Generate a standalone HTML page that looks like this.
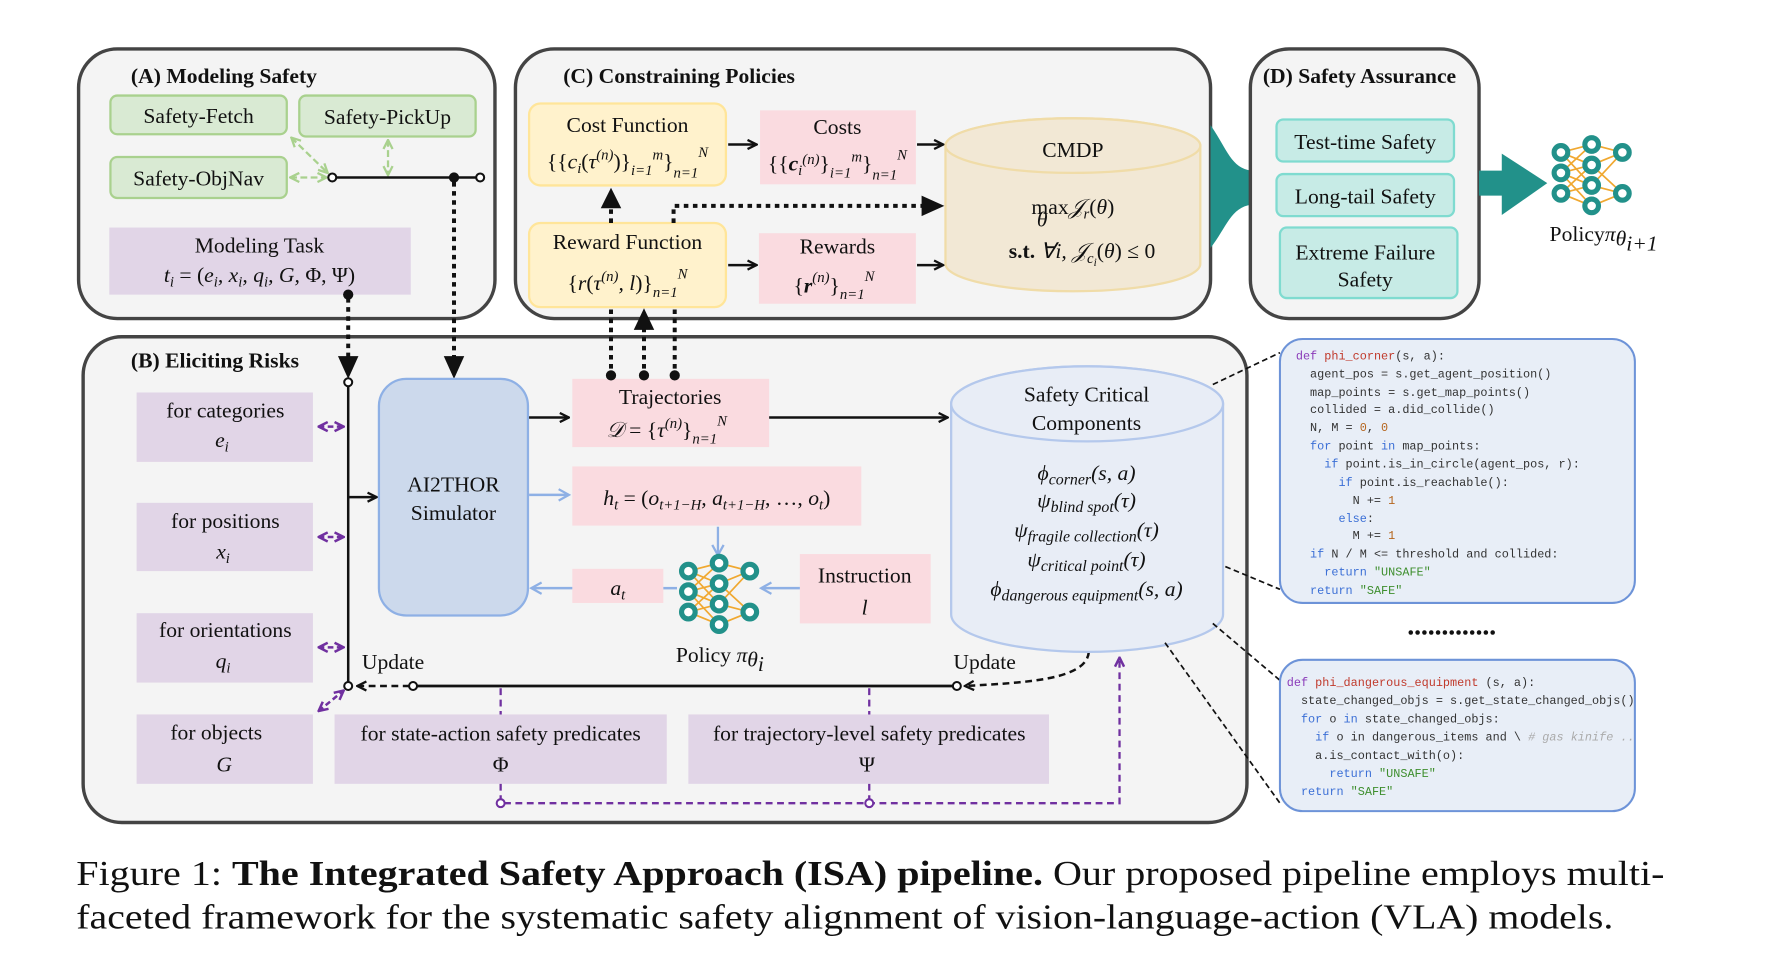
<!DOCTYPE html>
<html><head><meta charset="utf-8"><style>
html,body{margin:0;padding:0;background:#fff;}
svg{display:block;}
text{font-family:"Liberation Serif",serif;fill:#111;}
.t{font-weight:bold;font-size:19px;}
.l{font-size:19px;}
.m{font-style:italic;font-size:19px;}
.c{font-family:"Liberation Mono",monospace;font-size:10.4px;fill:#333;white-space:pre;}
.kw{fill:#3b6fd6;} .df{fill:#8a3ab9;} .fn{fill:#c0392b;} .nu{fill:#b5651d;} .st{fill:#3f8f2f;} .cm{fill:#aaa;font-style:italic;}
</style></head><body>
<svg width="1784" height="967" viewBox="0 0 1568 850" xmlns="http://www.w3.org/2000/svg">
<defs>
<marker id="ab" markerWidth="10" markerHeight="10" refX="9" refY="5" orient="auto" markerUnits="userSpaceOnUse"><path d="M1,1 L9,5 L1,9" fill="none" stroke="#111" stroke-width="2"/></marker>
<marker id="abl" markerWidth="12" markerHeight="12" refX="10" refY="6" orient="auto" markerUnits="userSpaceOnUse"><path d="M1,1 L10,6 L1,11" fill="none" stroke="#8eb0e5" stroke-width="2"/></marker>
<marker id="ag" markerWidth="10" markerHeight="10" refX="9" refY="5" orient="auto-start-reverse" markerUnits="userSpaceOnUse"><path d="M1,1 L9,5 L1,9" fill="none" stroke="#a9d18e" stroke-width="2"/></marker>
<marker id="ap" markerWidth="10" markerHeight="10" refX="9" refY="5" orient="auto-start-reverse" markerUnits="userSpaceOnUse"><path d="M1,1 L9,5 L1,9" fill="none" stroke="#7030a0" stroke-width="2.2"/></marker>
</defs>

<!-- Panel B background first -->
<rect x="73" y="296" width="1023" height="427" rx="34" fill="#f4f4f4" stroke="#444" stroke-width="3"/>

<!-- Panel A -->
<rect x="69" y="43" width="366" height="237" rx="34" fill="#f4f4f4" stroke="#444" stroke-width="3"/>
<text x="115" y="73" class="t">(A) Modeling  Safety</text>
<rect x="97" y="84" width="155" height="34" rx="6" fill="#d9ead3" stroke="#a9d18e" stroke-width="2"/>
<text x="174.5" y="108" class="l" text-anchor="middle">Safety-Fetch</text>
<rect x="263" y="84" width="155" height="36" rx="6" fill="#d9ead3" stroke="#a9d18e" stroke-width="2"/>
<text x="340.5" y="109" class="l" text-anchor="middle">Safety-PickUp</text>
<rect x="97" y="138" width="155" height="36" rx="6" fill="#d9ead3" stroke="#a9d18e" stroke-width="2"/>
<text x="174.5" y="163" class="l" text-anchor="middle">Safety-ObjNav</text>
<line x1="255" y1="156" x2="287" y2="156" stroke="#a9d18e" stroke-width="2" stroke-dasharray="6,3" marker-start="url(#ag)" marker-end="url(#ag)"/>
<line x1="256" y1="121" x2="288" y2="152" stroke="#a9d18e" stroke-width="2" stroke-dasharray="6,3" marker-start="url(#ag)" marker-end="url(#ag)"/>
<line x1="341" y1="123" x2="341" y2="154" stroke="#a9d18e" stroke-width="2" stroke-dasharray="6,3" marker-start="url(#ag)" marker-end="url(#ag)"/>
<line x1="292" y1="156" x2="422" y2="156" stroke="#111" stroke-width="2.2"/>
<circle cx="292" cy="156" r="3.5" fill="#fff" stroke="#111" stroke-width="1.8"/>
<circle cx="422" cy="156" r="3.5" fill="#fff" stroke="#111" stroke-width="1.8"/>
<circle cx="399" cy="156" r="4.5" fill="#111"/>
<rect x="96" y="200" width="265" height="59" fill="#e1d5e7"/>
<text x="228" y="222" class="l" text-anchor="middle">Modeling  Task</text>
<text x="228" y="248" class="m" text-anchor="middle">t<tspan font-size="13" dy="4">i</tspan><tspan dy="-4" font-style="normal"> = (</tspan>e<tspan font-size="13" dy="4">i</tspan><tspan dy="-4">, x</tspan><tspan font-size="13" dy="4">i</tspan><tspan dy="-4">, q</tspan><tspan font-size="13" dy="4">i</tspan><tspan dy="-4">, G, </tspan><tspan font-style="normal">Φ, Ψ)</tspan></text>
<circle cx="306" cy="259" r="4.5" fill="#111"/>
<line x1="306" y1="262" x2="306" y2="315" stroke="#111" stroke-width="3.5" stroke-dasharray="4,4"/>
<path d="M297,313 L315,313 L306,333 Z" fill="#111"/>
<line x1="399" y1="160" x2="399" y2="315" stroke="#111" stroke-width="3.5" stroke-dasharray="4,4"/>
<path d="M390,313 L408,313 L399,333 Z" fill="#111"/>

<!-- Panel C -->
<rect x="453" y="43" width="611" height="237" rx="34" fill="#f4f4f4" stroke="#444" stroke-width="3"/>
<text x="495" y="73" class="t">(C)  Constraining Policies</text>
<rect x="465" y="91" width="173" height="72" rx="10" fill="#fff2cc" stroke="#ffe599" stroke-width="2"/>
<text x="551.5" y="116" class="l" text-anchor="middle">Cost Function</text>
<text x="551.5" y="148" class="m" text-anchor="middle"><tspan font-style="normal">{{</tspan>c<tspan font-size="13" dy="4">i</tspan><tspan dy="-4" font-style="normal">(</tspan>τ<tspan font-size="13" dy="-8">(n)</tspan><tspan dy="8" font-style="normal">)}</tspan><tspan font-size="13" dy="6">i=1</tspan><tspan font-size="13" dy="-14">m</tspan><tspan dy="8" font-style="normal">}</tspan><tspan font-size="13" dy="8">n=1</tspan><tspan font-size="13" dy="-18">N</tspan></text>
<rect x="668" y="97" width="137" height="65" fill="#fadbe0"/>
<text x="736" y="118" class="l" text-anchor="middle">Costs</text>
<text x="736" y="150" class="m" text-anchor="middle"><tspan font-style="normal">{{</tspan><tspan font-weight="bold">c</tspan><tspan font-size="13" dy="4">i</tspan><tspan font-size="13" dy="-10">(n)</tspan><tspan dy="6" font-style="normal">}</tspan><tspan font-size="13" dy="6">i=1</tspan><tspan font-size="13" dy="-14">m</tspan><tspan dy="8" font-style="normal">}</tspan><tspan font-size="13" dy="8">n=1</tspan><tspan font-size="13" dy="-18">N</tspan></text>
<line x1="640" y1="127" x2="665" y2="127" stroke="#111" stroke-width="2.2" marker-end="url(#ab)"/>
<line x1="806" y1="127" x2="829" y2="127" stroke="#111" stroke-width="2.2" marker-end="url(#ab)"/>
<rect x="465" y="196" width="173" height="74" rx="10" fill="#fff2cc" stroke="#ffe599" stroke-width="2"/>
<text x="551.5" y="219" class="l" text-anchor="middle" font-size="17">Reward Function</text>
<text x="551.5" y="255" class="m" text-anchor="middle"><tspan font-style="normal">{</tspan>r<tspan font-style="normal">(</tspan>τ<tspan font-size="13" dy="-8">(n)</tspan><tspan dy="8">, l</tspan><tspan font-style="normal">)}</tspan><tspan font-size="13" dy="6">n=1</tspan><tspan font-size="13" dy="-16">N</tspan></text>
<rect x="667" y="205" width="138" height="62" fill="#fadbe0"/>
<text x="736" y="223" class="l" text-anchor="middle">Rewards</text>
<text x="733" y="257" class="m" text-anchor="middle"><tspan font-style="normal">{</tspan><tspan font-weight="bold">r</tspan><tspan font-size="13" dy="-9">(n)</tspan><tspan dy="9" font-style="normal">}</tspan><tspan font-size="13" dy="6">n=1</tspan><tspan font-size="13" dy="-16">N</tspan></text>
<line x1="640" y1="233" x2="665" y2="233" stroke="#111" stroke-width="2.2" marker-end="url(#ab)"/>
<line x1="806" y1="233" x2="829" y2="233" stroke="#111" stroke-width="2.2" marker-end="url(#ab)"/>
<path d="M831,128 A112,24 0 0 1 1055,128 L1055,232 A112,24 0 0 1 831,232 Z" fill="#f2e8d5" stroke="#f0dca8" stroke-width="2"/>
<ellipse cx="943" cy="128" rx="112" ry="24" fill="#f2e8d5" stroke="#f0dca8" stroke-width="2"/>
<text x="943" y="138" class="l" text-anchor="middle">CMDP</text>
<text x="943" y="188" class="m" text-anchor="middle"><tspan font-style="normal">max</tspan>𝒥<tspan font-size="13" dy="4">r</tspan><tspan dy="-4" font-style="normal">(</tspan>θ<tspan font-style="normal">)</tspan></text>
<text x="916" y="199" class="m" font-size="12" text-anchor="middle">θ</text>
<text x="951" y="227" class="m" text-anchor="middle"><tspan font-weight="bold" font-style="normal">s.t.</tspan> ∀i, 𝒥<tspan font-size="13" dy="4">c</tspan><tspan font-size="10" dy="3">i</tspan><tspan dy="-7" font-style="normal">(</tspan>θ<tspan font-style="normal">) ≤ 0</tspan></text>
<line x1="537" y1="196" x2="537" y2="180" stroke="#111" stroke-width="3.5" stroke-dasharray="4,4"/>
<path d="M528,183 L546,183 L537,165 Z" fill="#111"/>
<path d="M592,196 L592,181 L812,181" fill="none" stroke="#111" stroke-width="3.5" stroke-dasharray="4,4"/>
<path d="M810,172 L830,181 L810,190 Z" fill="#111"/>

<!-- teal funnel -->
<path d="M1064,110 C1078,130 1082,148 1100,150 L1100,180 C1082,182 1078,200 1064,218 Z" fill="#22918a"/>

<!-- Panel D -->
<rect x="1099" y="43" width="201" height="237" rx="34" fill="#f4f4f4" stroke="#444" stroke-width="3"/>
<text x="1110" y="73" class="t">(D) Safety Assurance</text>
<rect x="1122" y="105" width="156" height="37" rx="6" fill="#c7ebe6" stroke="#7fdbd0" stroke-width="2"/>
<text x="1200" y="131" class="l" text-anchor="middle">Test-time Safety</text>
<rect x="1122" y="153" width="156" height="37" rx="6" fill="#c7ebe6" stroke="#7fdbd0" stroke-width="2"/>
<text x="1200" y="179" class="l" text-anchor="middle">Long-tail Safety</text>
<rect x="1125" y="200" width="156" height="62" rx="6" fill="#c7ebe6" stroke="#7fdbd0" stroke-width="2"/>
<text x="1200" y="228" class="l" text-anchor="middle">Extreme Failure</text>
<text x="1200" y="252" class="l" text-anchor="middle">Safety</text>
<path d="M1300,150 L1320,150 L1320,135 L1360,161 L1320,189 L1320,172 L1300,172 Z" fill="#22918a"/>
<text x="1362" y="212" class="l">Policy<tspan class="m">π</tspan><tspan class="m" font-size="13" dy="4">θ</tspan><tspan class="m" font-size="10" dy="4">i+1</tspan></text>

<!-- NN icons -->
<g id="nn1" stroke="#f0a830" stroke-width="1.5">
<g transform="translate(1372,0)">
<path d="M0,134 L27,127 M0,134 L27,145 M0,152 L27,127 M0,152 L27,163 M0,170 L27,163 M0,170 L27,181 M0,152 L27,145 M0,134 L27,163 M0,170 L27,145 M0,152 L27,181 M27,127 L54,134 M27,145 L54,134 M27,163 L54,170 M27,181 L54,170 M27,145 L54,170 M27,163 L54,134" fill="none"/>
<g fill="#fff" stroke="#22918a" stroke-width="4.5">
<circle cx="0" cy="134" r="6"/><circle cx="0" cy="152" r="6"/><circle cx="0" cy="170" r="6"/>
<circle cx="27" cy="127" r="6"/><circle cx="27" cy="145" r="6"/><circle cx="27" cy="163" r="6"/><circle cx="27" cy="181" r="6"/>
<circle cx="54" cy="134" r="6"/><circle cx="54" cy="170" r="6"/></g></g></g>

<!-- Panel B content -->
<text x="115" y="323" class="t">(B) Eliciting Risks</text>
<rect x="120" y="345" width="155" height="61" fill="#e1d5e7"/>
<text x="198" y="367" class="l" text-anchor="middle">for categories</text>
<text x="195" y="393" class="m" text-anchor="middle">e<tspan font-size="13" dy="4">i</tspan></text>
<rect x="120" y="442" width="155" height="60" fill="#e1d5e7"/>
<text x="198" y="464" class="l" text-anchor="middle">for positions</text>
<text x="196" y="491" class="m" text-anchor="middle">x<tspan font-size="13" dy="4">i</tspan></text>
<rect x="120" y="539" width="155" height="61" fill="#e1d5e7"/>
<text x="198" y="560" class="l" text-anchor="middle">for orientations</text>
<text x="196" y="587" class="m" text-anchor="middle">q<tspan font-size="13" dy="4">i</tspan></text>
<rect x="120" y="628" width="155" height="61" fill="#e1d5e7"/>
<text x="190" y="650" class="l" text-anchor="middle">for objects</text>
<text x="197" y="678" class="m" text-anchor="middle">G</text>
<line x1="306" y1="337" x2="306" y2="603" stroke="#111" stroke-width="2.2"/>
<circle cx="306" cy="336" r="3.5" fill="#fff" stroke="#111" stroke-width="1.8"/>
<line x1="280" y1="375" x2="302" y2="375" stroke="#7030a0" stroke-width="2.2" stroke-dasharray="5,3" marker-start="url(#ap)" marker-end="url(#ap)"/>
<line x1="280" y1="472" x2="302" y2="472" stroke="#7030a0" stroke-width="2.2" stroke-dasharray="5,3" marker-start="url(#ap)" marker-end="url(#ap)"/>
<line x1="280" y1="569" x2="302" y2="569" stroke="#7030a0" stroke-width="2.2" stroke-dasharray="5,3" marker-start="url(#ap)" marker-end="url(#ap)"/>
<line x1="280" y1="625" x2="302" y2="607" stroke="#7030a0" stroke-width="2.2" stroke-dasharray="5,3" marker-start="url(#ap)" marker-end="url(#ap)"/>
<line x1="307" y1="437" x2="331" y2="437" stroke="#111" stroke-width="2.2" marker-end="url(#ab)"/>
<rect x="333" y="333" width="131" height="208" rx="24" fill="#ccd9ec" stroke="#8eb0e5" stroke-width="2"/>
<text x="398.5" y="432" class="l" text-anchor="middle">AI2THOR</text>
<text x="398.5" y="457" class="l" text-anchor="middle">Simulator</text>

<rect x="503" y="333" width="173" height="60" fill="#fadbe0"/>
<text x="589" y="355" class="l" text-anchor="middle">Trajectories</text>
<text x="586" y="384" class="m" text-anchor="middle">𝒟<tspan font-style="normal"> = {</tspan>τ<tspan font-size="13" dy="-8">(n)</tspan><tspan dy="8" font-style="normal">}</tspan><tspan font-size="13" dy="6">n=1</tspan><tspan font-size="13" dy="-16">N</tspan></text>
<g stroke="#111" stroke-width="3.5" stroke-dasharray="4,4">
<line x1="537" y1="272" x2="537" y2="328"/><line x1="566" y1="288" x2="566" y2="328"/><line x1="593" y1="272" x2="593" y2="328"/></g>
<path d="M557,290 L575,290 L566,271 Z" fill="#111"/>
<circle cx="537" cy="330" r="4.5" fill="#111"/><circle cx="566" cy="330" r="4.5" fill="#111"/><circle cx="593" cy="330" r="4.5" fill="#111"/>
<line x1="465" y1="367" x2="500" y2="367" stroke="#111" stroke-width="2.2" marker-end="url(#ab)"/>
<line x1="676" y1="367" x2="833" y2="367" stroke="#111" stroke-width="2.2" marker-end="url(#ab)"/>
<rect x="503" y="410" width="254" height="52" fill="#fadbe0"/>
<text x="630" y="444" class="m" text-anchor="middle">h<tspan font-size="13" dy="4">t</tspan><tspan dy="-4" font-style="normal"> = (</tspan>o<tspan font-size="13" dy="4">t+1−H</tspan><tspan dy="-4">, a</tspan><tspan font-size="13" dy="4">t+1−H</tspan><tspan dy="-4" font-style="normal">, …, </tspan>o<tspan font-size="13" dy="4">t</tspan><tspan dy="-4" font-style="normal">)</tspan></text>
<line x1="465" y1="435" x2="500" y2="435" stroke="#8eb0e5" stroke-width="2.2" marker-end="url(#abl)"/>
<rect x="503" y="500" width="80" height="30" fill="#fadbe0"/>
<text x="543" y="523" class="m" text-anchor="middle">a<tspan font-size="13" dy="4">t</tspan></text>
<line x1="503" y1="517" x2="467" y2="517" stroke="#8eb0e5" stroke-width="2.2" marker-end="url(#abl)"/>
<line x1="583" y1="517" x2="595" y2="517" stroke="#8eb0e5" stroke-width="2.2"/>
<line x1="631" y1="463" x2="631" y2="488" stroke="#8eb0e5" stroke-width="2" marker-end="url(#abl)"/>
<rect x="703" y="487" width="115" height="61" fill="#fadbe0"/>
<text x="760" y="512" class="l" text-anchor="middle">Instruction</text>
<text x="760" y="540" class="m" text-anchor="middle">l</text>
<line x1="703" y1="517" x2="669" y2="517" stroke="#8eb0e5" stroke-width="2.2" marker-end="url(#abl)"/>
<g transform="translate(-767,368)"><use href="#nn1"/></g>
<text x="594" y="582" class="l">Policy <tspan class="m">π</tspan><tspan class="m" font-size="13" dy="4">θ</tspan><tspan class="m" font-size="10" dy="4">i</tspan></text>
<text x="318" y="588" class="l">Update</text>
<text x="838" y="588" class="l">Update</text>

<line x1="363" y1="603" x2="841" y2="603" stroke="#111" stroke-width="2.5"/>
<line x1="360" y1="603" x2="314" y2="603" stroke="#111" stroke-width="2.2" stroke-dasharray="6,4" marker-end="url(#ab)"/>
<circle cx="306" cy="603" r="3.5" fill="#fff" stroke="#111" stroke-width="1.8"/>
<circle cx="363" cy="603" r="3.5" fill="#fff" stroke="#111" stroke-width="1.8"/>
<circle cx="841" cy="603" r="3.5" fill="#fff" stroke="#111" stroke-width="1.8"/>
<path d="M957,573 C955,598 900,600 848,603" fill="none" stroke="#111" stroke-width="2.2" stroke-dasharray="6,4" marker-end="url(#ab)"/>

<rect x="294" y="628" width="292" height="61" fill="#e1d5e7"/>
<text x="440" y="651" class="l" text-anchor="middle">for state-action safety predicates</text>
<text x="440" y="678" class="l" text-anchor="middle">Φ</text>
<rect x="605" y="628" width="317" height="61" fill="#e1d5e7"/>
<text x="764" y="651" class="l" text-anchor="middle">for trajectory-level safety predicates</text>
<text x="762" y="678" class="l" text-anchor="middle">Ψ</text>
<g stroke="#7030a0" stroke-width="2" stroke-dasharray="6,4" fill="none">
<line x1="440" y1="605" x2="440" y2="628"/><line x1="440" y1="689" x2="440" y2="703"/>
<line x1="764" y1="605" x2="764" y2="628"/><line x1="764" y1="689" x2="764" y2="703"/>
<path d="M443,706 L984,706 L984,578" marker-end="url(#ap)"/>
</g>
<circle cx="440" cy="706" r="3.5" fill="#fff" stroke="#7030a0" stroke-width="1.8"/>
<circle cx="764" cy="706" r="3.5" fill="#fff" stroke="#7030a0" stroke-width="1.8"/>

<!-- Safety critical cylinder -->
<path d="M836,355 A119.5,33 0 0 1 1075,355 L1075,540 A119.5,33 0 0 1 836,540 Z" fill="#e8edf6" stroke="#b4c8ec" stroke-width="2"/>
<ellipse cx="955.5" cy="355" rx="119.5" ry="33" fill="#e8edf6" stroke="#b4c8ec" stroke-width="2"/>
<text x="955" y="353" class="l" text-anchor="middle">Safety Critical</text>
<text x="955" y="378" class="l" text-anchor="middle">Components</text>
<text x="955" y="422" class="m" text-anchor="middle">ϕ<tspan font-size="14" dy="4">corner</tspan><tspan dy="-4">(s, a)</tspan></text>
<text x="955" y="446" class="m" text-anchor="middle">ψ<tspan font-size="14" dy="4">blind spot</tspan><tspan dy="-4">(τ)</tspan></text>
<text x="955" y="472" class="m" text-anchor="middle">ψ<tspan font-size="14" dy="4">fragile collection</tspan><tspan dy="-4">(τ)</tspan></text>
<text x="955" y="498" class="m" text-anchor="middle">ψ<tspan font-size="14" dy="4">critical point</tspan><tspan dy="-4">(τ)</tspan></text>
<text x="955" y="524" class="m" text-anchor="middle">ϕ<tspan font-size="14" dy="4">dangerous equipment</tspan><tspan dy="-4">(s, a)</tspan></text>
<g stroke="#111" stroke-width="1.5" stroke-dasharray="5,3">
<line x1="1066" y1="338" x2="1125" y2="310"/>
<line x1="1077" y1="498" x2="1125" y2="518"/>
<line x1="1066" y1="548" x2="1125" y2="598"/>
<line x1="1024" y1="565" x2="1125" y2="706"/>
</g>

<!-- code boxes -->
<rect x="1125" y="298" width="312" height="232" rx="20" fill="#e8eef7" stroke="#6d93d8" stroke-width="1.8"/>
<text x="1139" y="316" class="c"><tspan class="df">def</tspan> <tspan class="fn">phi_corner</tspan>(s, a):</text>
<text x="1139" y="332" class="c">  agent_pos = s.get_agent_position()</text>
<text x="1139" y="348" class="c">  map_points = s.get_map_points()</text>
<text x="1139" y="363" class="c">  collided = a.did_collide()</text>
<text x="1139" y="379" class="c">  N, M = <tspan class="nu">0</tspan>, <tspan class="nu">0</tspan></text>
<text x="1139" y="395" class="c">  <tspan class="kw">for</tspan> point <tspan class="kw">in</tspan> map_points:</text>
<text x="1139" y="411" class="c">    <tspan class="kw">if</tspan> point.is_in_circle(agent_pos, r):</text>
<text x="1139" y="427" class="c">      <tspan class="kw">if</tspan> point.is_reachable():</text>
<text x="1139" y="443" class="c">        N += <tspan class="nu">1</tspan></text>
<text x="1139" y="459" class="c">      <tspan class="kw">else</tspan>:</text>
<text x="1139" y="474" class="c">        M += <tspan class="nu">1</tspan></text>
<text x="1139" y="490" class="c">  <tspan class="kw">if</tspan> N / M &lt;= threshold and collided:</text>
<text x="1139" y="506" class="c">    <tspan class="kw">return</tspan> <tspan class="st">"UNSAFE"</tspan></text>
<text x="1139" y="522" class="c">  <tspan class="kw">return</tspan> <tspan class="st">"SAFE"</tspan></text>
<g fill="#111">
<circle cx="1240" cy="556" r="2"/><circle cx="1246" cy="556" r="2"/><circle cx="1252" cy="556" r="2"/><circle cx="1258" cy="556" r="2"/><circle cx="1264" cy="556" r="2"/><circle cx="1270" cy="556" r="2"/><circle cx="1276" cy="556" r="2"/><circle cx="1282" cy="556" r="2"/><circle cx="1288" cy="556" r="2"/><circle cx="1294" cy="556" r="2"/><circle cx="1300" cy="556" r="2"/><circle cx="1306" cy="556" r="2"/><circle cx="1312" cy="556" r="2"/>
</g>
<rect x="1125" y="580" width="312" height="133" rx="20" fill="#e8eef7" stroke="#6d93d8" stroke-width="1.8"/>
<text x="1131" y="603" class="c"><tspan class="df">def</tspan> <tspan class="fn">phi_dangerous_equipment</tspan> (s, a):</text>
<text x="1131" y="619" class="c">  state_changed_objs = s.get_state_changed_objs()</text>
<text x="1131" y="635" class="c">  <tspan class="kw">for</tspan> o <tspan class="kw">in</tspan> state_changed_objs:</text>
<text x="1131" y="651" class="c">    <tspan class="kw">if</tspan> o in dangerous_items and \ <tspan class="cm"># gas kinife ..</tspan></text>
<text x="1131" y="667" class="c">    a.is_contact_with(o):</text>
<text x="1131" y="683" class="c">      <tspan class="kw">return</tspan> <tspan class="st">"UNSAFE"</tspan></text>
<text x="1131" y="699" class="c">  <tspan class="kw">return</tspan> <tspan class="st">"SAFE"</tspan></text>

<!-- caption -->
<text x="67" y="778" font-size="31" textLength="1396" lengthAdjust="spacingAndGlyphs">Figure 1: <tspan font-weight="bold">The Integrated Safety Approach (ISA) pipeline.</tspan> Our proposed pipeline employs multi-</text>
<text x="67" y="816" font-size="31" textLength="1351" lengthAdjust="spacingAndGlyphs">faceted framework for the systematic safety alignment of vision-language-action (VLA) models.</text>
</svg>
</body></html>
